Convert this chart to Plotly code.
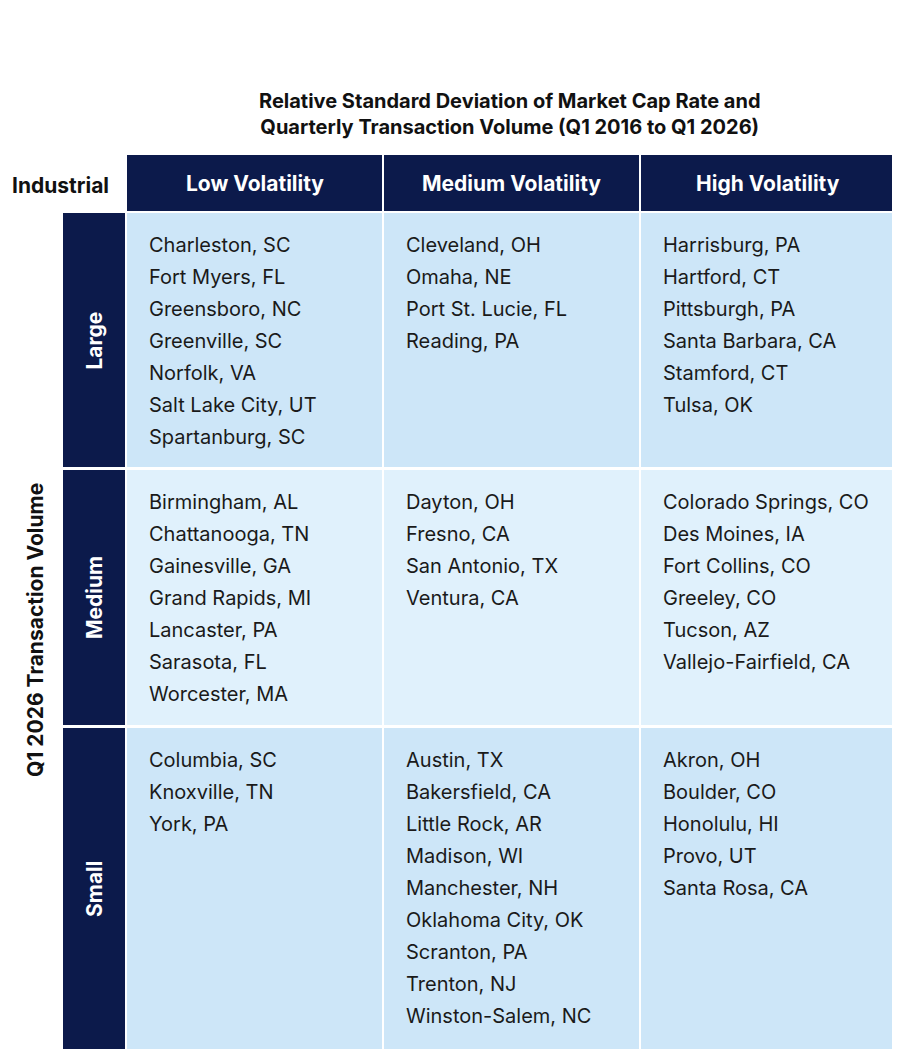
import plotly.graph_objects as go

columns = ["Low Volatility", "Medium Volatility", "High Volatility"]
rows = ["Large", "Medium", "Small"]
cities = {
    ("Large", "Low Volatility"): ["Charleston, SC", "Fort Myers, FL", "Greensboro, NC", "Greenville, SC",
                                  "Norfolk, VA", "Salt Lake City, UT", "Spartanburg, SC"],
    ("Large", "Medium Volatility"): ["Cleveland, OH", "Omaha, NE", "Port St. Lucie, FL", "Reading, PA"],
    ("Large", "High Volatility"): ["Harrisburg, PA", "Hartford, CT", "Pittsburgh, PA", "Santa Barbara, CA",
                                   "Stamford, CT", "Tulsa, OK"],
    ("Medium", "Low Volatility"): ["Birmingham, AL", "Chattanooga, TN", "Gainesville, GA", "Grand Rapids, MI",
                                   "Lancaster, PA", "Sarasota, FL", "Worcester, MA"],
    ("Medium", "Medium Volatility"): ["Dayton, OH", "Fresno, CA", "San Antonio, TX", "Ventura, CA"],
    ("Medium", "High Volatility"): ["Colorado Springs, CO", "Des Moines, IA", "Fort Collins, CO", "Greeley, CO",
                                    "Tucson, AZ", "Vallejo-Fairfield, CA"],
    ("Small", "Low Volatility"): ["Columbia, SC", "Knoxville, TN", "York, PA"],
    ("Small", "Medium Volatility"): ["Austin, TX", "Bakersfield, CA", "Little Rock, AR", "Madison, WI",
                                     "Manchester, NH", "Oklahoma City, OK", "Scranton, PA", "Trenton, NJ",
                                     "Winston-Salem, NC"],
    ("Small", "High Volatility"): ["Akron, OH", "Boulder, CO", "Honolulu, HI", "Provo, UT", "Santa Rosa, CA"],
}
row_shade = [0, 1, 0]

# ===== layout grid (pixels) =====
NAVY = "#0c1a4b"
col_edges = [126, 383, 640, 895]
row_edges = [212, 469, 727, 1051]
head_edges = [155, 211]
lab_edges = [63, 125]
FONT = "Inter, Roboto, Arial"
PAGE_OFFSET = 8  # default body margin of the html page

fig = go.Figure()
# body cells
fig.add_trace(go.Heatmap(x=col_edges, y=row_edges, z=[[s] * 3 for s in row_shade],
                         colorscale=[[0, "#cde6f8"], [1, "#e0f1fc"]], showscale=False,
                         xgap=2, ygap=3, hoverinfo="skip"))
# header cells
fig.add_trace(go.Heatmap(x=col_edges, y=head_edges, z=[[0, 0, 0]],
                         colorscale=[[0, NAVY], [1, NAVY]], showscale=False,
                         xgap=2, hoverinfo="skip"))
# row label cells
fig.add_trace(go.Heatmap(x=lab_edges, y=row_edges, z=[[0], [0], [0]],
                         colorscale=[[0, NAVY], [1, NAVY]], showscale=False,
                         ygap=3, hoverinfo="skip"))

ann = []
for i, c in enumerate(columns):
    ann.append(dict(x=(col_edges[i] + col_edges[i + 1]) / 2, y=sum(head_edges) / 2, text=c,
                    font=dict(size=21, color="white", family=FONT, weight="bold")))
for j, r in enumerate(rows):
    ann.append(dict(x=sum(lab_edges) / 2, y=(row_edges[j] + row_edges[j + 1]) / 2, text=r, textangle=-90,
                    font=dict(size=21, color="white", family=FONT, weight="bold")))
    for i, c in enumerate(columns):
        for k, name in enumerate(cities[(r, c)]):
            ann.append(dict(x=col_edges[i] + 21, y=row_edges[j] + 33 + 32 * k, text=name, xanchor="left",
                            font=dict(size=20, color="#1a1a1a", family=FONT)))

ann.append(dict(x=10, y=185, text="Industrial", xanchor="left",
                font=dict(size=21, color="#111111", family=FONT, weight="bold")))
ann.append(dict(x=35, y=630, text="Q1 2026 Transaction Volume", textangle=-90,
                font=dict(size=21, color="#111111", family=FONT, weight="bold")))
ann.append(dict(x=510, y=114, text="Relative Standard Deviation of Market Cap Rate and<br>"
                "Quarterly Transaction Volume (Q1 2016 to Q1 2026)",
                font=dict(size=20, color="#111111", family=FONT, weight="bold")))
ann.append(dict(x=4, y=33, xanchor="left", align="left",
                text="<span style='color:#2a7fd4'>Figure 5:</span> Second-largest 51 Industrial Markets by Transaction<br>"
                     "Volume, First Quarter 2026",
                font=dict(size=25, color=NAVY, family=FONT, weight="bold")))
for a in ann:
    a.update(xref="x", yref="y", showarrow=False)

fig.update_layout(
    width=900, height=1057, margin=dict(l=0, r=0, t=0, b=0),
    paper_bgcolor="white", plot_bgcolor="white", annotations=ann,
    xaxis=dict(range=[PAGE_OFFSET, 900 + PAGE_OFFSET], visible=False, fixedrange=True),
    yaxis=dict(range=[1057 + PAGE_OFFSET, PAGE_OFFSET], visible=False, fixedrange=True),
)
fig.write_html("out.html")
